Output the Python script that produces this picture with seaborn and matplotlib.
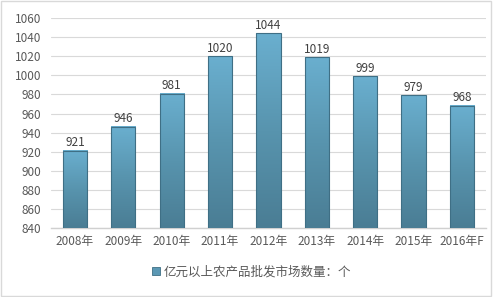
import numpy as np
import pandas as pd
import matplotlib
matplotlib.use("Agg")
import matplotlib.pyplot as plt
import seaborn as sns
from matplotlib.colors import LinearSegmentedColormap
from matplotlib.patches import Rectangle

years = ["2008年", "2009年", "2010年", "2011年", "2012年", "2013年", "2014年", "2015年", "2016年F"]
values = [921, 946, 981, 1020, 1044, 1019, 999, 979, 968]
series_name = "亿元以上农产品批发市场数量：个"
yticks = [840, 860, 880, 900, 920, 940, 960, 980, 1000, 1020, 1040, 1060]

sns.set_theme(style="white")
plt.rcParams['font.family'] = ['Noto Sans CJK SC', 'DejaVu Sans']

df = pd.DataFrame({"year": years, "value": values})

fig = plt.figure(figsize=(4.93, 2.97), dpi=100)
ax = fig.add_axes([0.103, 0.232, 0.883, 0.707])

YMIN, YMAX = 840, 1060

sns.barplot(data=df, x="year", y="value", ax=ax, color="#5b9bb8", width=0.5,
            edgecolor="#3f6f85", linewidth=0.8, zorder=4)

ax.set_ylim(YMIN, YMAX)
ax.set_yticks(yticks)
ax.grid(axis="y", color="#d9d9d9", linewidth=0.8, zorder=0)
ax.set_axisbelow(True)
for s in ["top", "right", "left"]:
    ax.spines[s].set_visible(False)
ax.spines["bottom"].set_color("#d0d0d0")
ax.spines["bottom"].set_linewidth(1.0)
ax.set_xlabel("")
ax.set_ylabel("")
ax.tick_params(axis="both", length=0, labelsize=8.5, colors="#595959")
ax.tick_params(axis="y", pad=7)
ax.tick_params(axis="x", pad=5)

# gradient fill on bars (light at top, darker at bottom)
cmap = LinearSegmentedColormap.from_list("g", ["#4a7d94", "#5894ae", "#6aafcf"])
grad = np.linspace(0, 1, 256).reshape(-1, 1)
for p in list(ax.patches):
    x0, w = p.get_x(), p.get_width()
    top = p.get_y() + p.get_height()
    p.set_facecolor("none")
    ax.imshow(grad, extent=[x0, x0 + w, YMIN, top], origin="lower",
              cmap=cmap, aspect="auto", zorder=3.5, interpolation="bilinear")

for i, v in enumerate(values):
    ax.text(i, v + 1.5, str(v), ha="center", va="bottom", fontsize=8.5, color="#404040", zorder=5)

ax.set_xlim(-0.5, len(years) - 0.5)
ax.set_ylim(YMIN, YMAX)
ax.set_aspect("auto")

# legend
handle = Rectangle((0, 0), 1, 1, facecolor="#5b98b4", edgecolor="#3f6f85", linewidth=0.6)
fig.legend([handle], [series_name], loc="center", bbox_to_anchor=(0.51, 0.085),
           frameon=False, fontsize=9, handlelength=0.6, handleheight=0.6,
           handletextpad=0.3, labelcolor="#595959")

# outer border
fig.patches.append(Rectangle((0.002, 0.003), 0.994, 0.994, transform=fig.transFigure,
                             fill=False, edgecolor="#d9d9d9", linewidth=1.0))

fig.savefig("out.png", dpi=100)
